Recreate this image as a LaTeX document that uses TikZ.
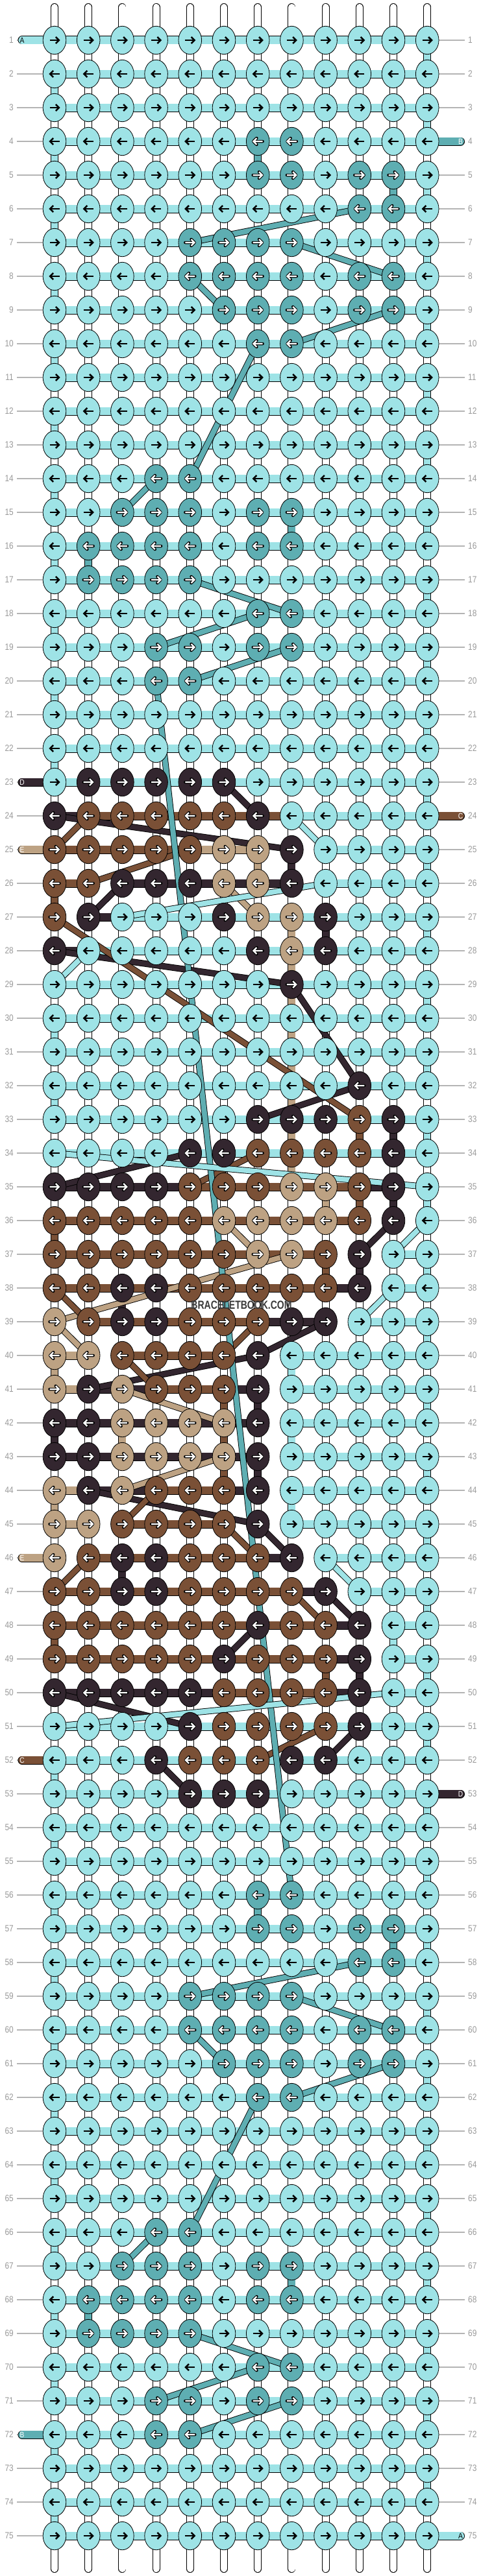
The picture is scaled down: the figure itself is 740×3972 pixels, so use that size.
\documentclass[tikz,border=0pt]{standalone}
\usepackage{fontspec}
\setmainfont{Liberation Sans}
\usetikzlibrary{shapes.geometric}

\definecolor{colA}{HTML}{9EE3E6}
\definecolor{colB}{HTML}{5EAEB2}
\definecolor{colC}{HTML}{7A5036}
\definecolor{colD}{HTML}{33262F}
\definecolor{colE}{HTML}{BDA283}
\definecolor{rowgray}{HTML}{B4B4B4}
\definecolor{lblgray}{HTML}{9A9A9A}
\definecolor{wmgray}{HTML}{3A3A3A}

% knot colours per row (A is the default)
\newcount\knc
\def\knotrow#1#2{\global\knc=0 \def\kr{#1}\knotscan#2\relax}
\def\knotscan#1{\ifx\relax#1\else\global\advance\knc by 1 \expandafter\xdef\csname kn-\kr-\the\knc\endcsname{#1}\expandafter\knotscan\fi}
% bar colours per row, 0 = no bar (A is the default)
\def\barrow#1#2{\global\knc=0 \def\kr{#1}\barscan#2\relax}
\def\barscan#1{\ifx\relax#1\else\global\advance\knc by 1 \expandafter\xdef\csname br-\kr-\the\knc\endcsname{#1}\expandafter\barscan\fi}

\knotrow{4}{AAAAAABBAAAA}
\knotrow{5}{AAAAAABBABBA}
\knotrow{6}{AAAAAAAAABBA}
\knotrow{7}{AAAABBBBAAAA}
\knotrow{8}{AAAABBBBABBA}
\knotrow{9}{AAAAABBBABBA}
\knotrow{10}{AAAAAABBAAAA}
\knotrow{14}{AAABBAAAAAAA}
\knotrow{15}{AABBBABBAAAA}
\knotrow{16}{ABBBBABBAAAA}
\knotrow{17}{ABBBBAAAAAAA}
\knotrow{18}{AAAAAABBAAAA}
\knotrow{19}{AAABBABBAAAA}
\knotrow{20}{AAABBAAAAAAA}
\knotrow{23}{ADDDDDAAAAAA}
\knotrow{24}{DCCCCCDAAAAA}
\knotrow{25}{CCCCCEEDAAAA}
\knotrow{26}{CCDDDEEDAAAA}
\knotrow{27}{CDAAADEEDAAA}
\knotrow{28}{DAAAAADEDAAA}
\knotrow{29}{AAAAAAADAAAA}
\knotrow{32}{AAAAAAAAADAA}
\knotrow{33}{AAAAAADDDCDA}
\knotrow{34}{AAAADDCCCCDA}
\knotrow{35}{DDDDCCCEECDA}
\knotrow{36}{CCCCCEEEECDA}
\knotrow{37}{CCCCCCEECDAA}
\knotrow{38}{CCDDCCCCCDAA}
\knotrow{39}{ECDDCCCDDAAA}
\knotrow{40}{EECCCCDAAAAA}
\knotrow{41}{EDECCCDAAAAA}
\knotrow{42}{DDEEEEDAAAAA}
\knotrow{43}{DDEEEEDAAAAA}
\knotrow{44}{EDECCCDAAAAA}
\knotrow{45}{EECCCCDAAAAA}
\knotrow{46}{ECDDCCCDAAAA}
\knotrow{47}{CCDDCCCCDAAA}
\knotrow{48}{CCCCCCDCCDAA}
\knotrow{49}{CCCCCDCCCDAA}
\knotrow{50}{DDDDDCCCCDAA}
\knotrow{51}{AAAADCCCCDAA}
\knotrow{52}{AAADCCCDDAAA}
\knotrow{53}{AAAADDDAAAAA}
\knotrow{56}{AAAAAABBAAAA}
\knotrow{57}{AAAAAABBABBA}
\knotrow{58}{AAAAAAAAABBA}
\knotrow{59}{AAAABBBBAAAA}
\knotrow{60}{AAAABBBBABBA}
\knotrow{61}{AAAAABBBABBA}
\knotrow{62}{AAAAAABBAAAA}
\knotrow{66}{AAABBAAAAAAA}
\knotrow{67}{AABBBABBAAAA}
\knotrow{68}{ABBBBABBAAAA}
\knotrow{69}{ABBBBAAAAAAA}
\knotrow{70}{AAAAAABBAAAA}
\knotrow{71}{AAABBABBAAAA}
\knotrow{72}{AAABBAAAAAAA}

\barrow{24}{DCCCCCCAAAA}
\barrow{25}{CCCCEE00AAA}
\barrow{26}{C0DDDDD0AAA}
\barrow{27}{0DAAAAAAAAA}
\barrow{28}{DAAAAAAAAAA}
\barrow{35}{DDDDCCCCCD0}
\barrow{36}{CCCCCCCCC00}
\barrow{37}{CCCCCCCC00A}
\barrow{38}{CCCCCCCCD0A}
\barrow{39}{0CCCCCDD0AA}
\barrow{40}{E0CCC00AAAA}
\barrow{41}{EDDCCD0AAAA}
\barrow{42}{DDDDDD0AAAA}
\barrow{43}{DDDDDD0AAAA}
\barrow{44}{EDDCCD0AAAA}
\barrow{45}{E0CCC00AAAA}
\barrow{46}{0CCCCCD0AAA}
\barrow{47}{CCCCCCCD0AA}
\barrow{48}{CCCCCCCCD0A}
\barrow{49}{CCCCCCCCD0A}
\barrow{50}{DDDDDCCCD0A}

\begin{document}
\begin{tikzpicture}[x=1pt,y=-1pt,
    knot/.style={ellipse,draw=black,line width=0.8pt,minimum width=35.6pt,minimum height=43.4pt,inner sep=0pt},
    strng/.style={draw=black,line width=0.9pt,double=#1,double distance=10.2pt},
    hbar/.style={draw=black,line width=0.9pt,double=#1,double distance=11.2pt},
    thread/.style={draw=black,line width=0.9pt,double=#1,double distance=8pt},
    rowline/.style={draw=rowgray,line width=1.2pt},
    rowlbl/.style={text=lblgray,font=\fontsize{14}{14}\selectfont,xscale=0.85,inner sep=0pt},
    endlbl/.style={font=\fontsize{12}{12}\selectfont,xscale=0.85,inner sep=0pt},
    arrblack/.pic={
      \draw[line width=2.5pt] (-7.5,0) -- (6,0);
      \draw[line width=2.5pt] (1.8,-5) -- (6.8,0) -- (1.8,5);},
    arrwhite/.pic={
      \draw[line width=4.5pt,line cap=round,line join=round] (-7.5,0) -- (6,0) (1.8,-5) -- (6.8,0) -- (1.8,5);
      \draw[white,line width=2.3pt] (-7.5,0) -- (6,0) (1.8,-5) -- (6.8,0) -- (1.8,5);}]

\useasboundingbox (0,0) rectangle (740,3972);
\fill[white] (0,0) rectangle (740,3972);

% grid of knot positions
\foreach \r in {1,...,75}{
  \foreach \c in {1,...,12}
    \coordinate (p-\r-\c) at ({84+52.2*(\c-1)},{62+52*(\r-1)});
  \coordinate (gl-\r) at (26,{62+52*(\r-1)});
  \coordinate (gr-\r) at (716,{62+52*(\r-1)});
  \coordinate (el-\r) at (34,{62+52*(\r-1)});
  \coordinate (er-\r) at (709.5,{62+52*(\r-1)});
}
\foreach \c in {1,...,12}{
  \coordinate (t-\c) at ({84+52.2*(\c-1)},11);
  \coordinate (b-\c) at ({84+52.2*(\c-1)},3961);
}

% row numbers
\foreach \r in {1,...,75}{
  \draw[rowline] (gl-\r) -- (p-\r-1);
  \draw[rowline] (p-\r-12) -- (gr-\r);
  \node[rowlbl,anchor=east] (nl-\r) at (21,{62+52*(\r-1)}) {\r};
  \node[rowlbl,anchor=west] (nr-\r) at (721,{62+52*(\r-1)}) {\r};
}

% base strings
\foreach \c in {1,...,12}{
  \draw[strng=white,line cap=round] (t-\c) -- (p-1-\c);
  \draw[strng=white,line cap=round] (p-75-\c) -- (b-\c);
}
\foreach \r [evaluate=\r as \rn using int(\r+1)] in {1,...,74}{
  \foreach \c in {1,...,12}
    \draw[strng=white] (p-\r-\c) -- (p-\rn-\c);
}

% turns of the working threads
\foreach \r [evaluate=\r as \rn using int(\r+1)] in {1,3,...,73}
  \draw[strng=colA] (p-\r-12) -- (p-\rn-12);
\foreach \r [evaluate=\r as \rn using int(\r+1)] in {2,4,...,22}
  \draw[strng=colA] (p-\r-1) -- (p-\rn-1);
\foreach \r [evaluate=\r as \rn using int(\r+1)] in {52,54,...,74}
  \draw[strng=colA] (p-\r-1) -- (p-\rn-1);
\foreach \r/\c/\tc [evaluate=\r as \rn using int(\r+1)] in {30/1/A,32/1/A,40/8/A,42/8/A,44/8/A,48/11/A,
    4/7/B,5/11/B,15/8/B,16/2/B,56/7/B,57/11/B,67/8/B,68/2/B,
    26/1/C,33/10/C,35/10/C,36/1/C,37/9/C,41/6/C,42/6/C,43/6/C,48/1/C,49/9/C,50/6/C,
    25/8/D,27/9/D,33/11/D,35/11/D,37/10/D,38/3/D,41/7/D,42/1/D,43/7/D,46/3/D,49/10/D,
    25/7/E,27/8/E,28/8/E,29/8/E,30/8/E,31/8/E,32/8/E,33/8/E,34/8/E,35/9/E,40/1/E,42/3/E,44/1/E}
  \draw[strng=col\tc] (p-\r-\c) -- (p-\rn-\c);

% bars along the rows
\foreach \r in {1,...,75}{
  \foreach \c [evaluate=\c as \cn using int(\c+1)] in {1,...,11}{
    \ifcsname br-\r-\c\endcsname\edef\bb{\csname br-\r-\c\endcsname}\else\def\bb{A}\fi
    \if\bb 0\else\draw[hbar=col\bb] (p-\r-\c) -- (p-\r-\cn);\fi
  }
}

% threads jumping between rows
\foreach \ra/\ca/\rb/\cb/\tc in {26/6/27/7/E,36/6/37/7/E,37/8/39/1/E,39/1/40/2/E,41/3/42/6/E,43/6/44/3/E,
    23/6/24/7/D,24/1/25/8/D,26/3/27/2/D,28/1/29/8/D,29/8/32/10/D,32/10/33/7/D,34/5/35/1/D,
    36/11/37/10/D,39/9/40/7/D,40/7/41/2/D,44/2/45/7/D,45/7/46/8/D,47/9/48/10/D,48/7/49/6/D,
    50/1/51/5/D,51/10/52/9/D,52/4/53/5/D,
    24/2/25/1/C,25/5/26/2/C,27/1/33/10/C,34/7/35/5/C,38/1/39/2/C,39/7/40/6/C,40/3/41/4/C,
    44/4/45/3/C,45/6/46/7/C,46/2/47/1/C,47/8/48/9/C,51/9/52/7/C,
    6/10/7/5/B,7/8/8/11/B,8/5/9/6/B,9/11/10/8/B,10/7/14/5/B,14/4/15/3/B,17/5/18/8/B,18/7/19/4/B,
    19/8/20/5/B,20/4/56/8/B,58/10/59/5/B,59/8/60/11/B,60/5/61/6/B,61/11/62/8/B,62/7/66/5/B,
    66/4/67/3/B,69/5/70/8/B,70/7/71/4/B,71/8/72/5/B,
    24/8/25/9/A,26/9/27/3/A,28/2/29/1/A,34/1/35/12/A,36/12/37/11/A,38/11/39/10/A,46/9/47/10/A,50/11/51/1/A}
  \draw[thread=col\tc] (p-\ra-\ca) -- (p-\rb-\cb);

% thread ends
\foreach \r/\tc in {1/A,23/D,25/E,46/E,52/C,72/B}{
  \draw[hbar=col\tc,line cap=round] (el-\r) -- (p-\r-1);
  \if\tc A\def\lc{black}\else\def\lc{white}\fi
  \node[endlbl,text=\lc] (ne-\r) at (el-\r) {\tc};
}
\foreach \r/\tc in {4/B,24/C,53/D,75/A}{
  \draw[hbar=col\tc,line cap=round] (p-\r-12) -- (er-\r);
  \if\tc A\def\lc{black}\else\def\lc{white}\fi
  \node[endlbl,text=\lc] (ne-\r) at (er-\r) {\tc};
}

% knots
\foreach \r in {1,...,75}{
  \foreach \c in {1,...,12}{
    \ifcsname kn-\r-\c\endcsname\edef\kk{\csname kn-\r-\c\endcsname}\else\def\kk{A}\fi
    \ifodd\r\def\dd{1}\else\def\dd{-1}\fi
    \node[knot,fill=col\kk] (k-\r-\c) at (p-\r-\c) {};
    \if\kk A\pic[xscale=\dd] at (p-\r-\c) {arrblack};\else\pic[xscale=\dd] at (p-\r-\c) {arrwhite};\fi
  }
}

\node[font=\bfseries\fontsize{18}{18}\selectfont,xscale=0.78,text=wmgray,inner sep=0pt] (wm) at (372,2012) {BRACELETBOOK.COM};
\end{tikzpicture}
\end{document}
